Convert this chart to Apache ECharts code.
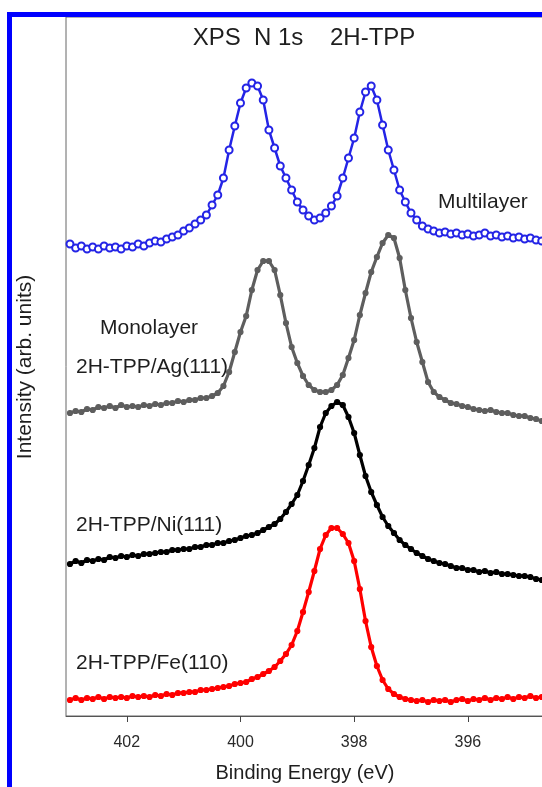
<!DOCTYPE html>
<html>
<head>
<meta charset="utf-8">
<script src="https://cdn.jsdelivr.net/npm/echarts@6/dist/echarts.min.js"></script>
<style>
  html, body { margin: 0; padding: 0; background: #fff; }
  #main { width: 542px; height: 787px; }
</style>
</head>
<body>
<div id="main"></div>
<script>
// binding energy (eV), shared by all spectra
var energy = [
    403.0, 402.9, 402.8, 402.7, 402.6, 402.5, 402.4, 402.3, 402.2, 402.1,
    402.0, 401.9, 401.8, 401.7, 401.6, 401.5, 401.4, 401.3, 401.2, 401.1,
    401.0, 400.9, 400.8, 400.7, 400.6, 400.5, 400.4, 400.3, 400.2, 400.1,
    400.0, 399.9, 399.8, 399.7, 399.6, 399.5, 399.4, 399.3, 399.2, 399.1,
    399.0, 398.9, 398.8, 398.7, 398.6, 398.5, 398.4, 398.3, 398.2, 398.1,
    398.0, 397.9, 397.8, 397.7, 397.6, 397.5, 397.4, 397.3, 397.2, 397.1,
    397.0, 396.9, 396.8, 396.7, 396.6, 396.5, 396.4, 396.3, 396.2, 396.1,
    396.0, 395.9, 395.8, 395.7, 395.6, 395.5, 395.4, 395.3, 395.2, 395.1,
    395.0, 394.9, 394.8, 394.7
];
// intensities (arb. units, already stacked with offsets)
var multilayer = [
    472, 468, 470, 467, 469, 467, 470, 468, 469, 467,
    470, 469, 472, 470, 473, 475, 474, 477, 479, 481,
    485, 488, 492, 496, 501, 511, 521, 538, 566, 590,
    613, 628, 633, 630, 616, 586, 568, 550, 538, 526,
    514, 506, 500, 496, 498, 503, 510, 520, 538, 558,
    578, 604, 624, 630, 616, 591, 566, 546, 526, 514,
    503, 496, 490, 487, 485, 483, 484, 482, 483, 481,
    482, 480, 481, 483, 480, 481, 479, 480, 478, 479,
    477, 478, 476, 475
];
var agMono = [
    303, 305, 304, 307, 306, 309, 308, 310, 308, 311,
    309, 310, 309, 311, 310, 312, 311, 313, 313, 315,
    314, 316, 316, 318, 318, 320, 323, 330, 344, 364,
    384, 400, 426, 446, 455, 455, 446, 421, 393, 369,
    353, 340, 331, 326, 324, 324, 326, 331, 341, 358,
    376, 401, 423, 444, 459, 473, 481, 478, 458, 426,
    398, 374, 354, 334, 324, 319, 316, 313, 312, 310,
    309, 307, 306, 305, 306, 304, 303, 303, 301, 300,
    300, 298, 297, 295
];
var niMono = [
    152, 155, 153, 156, 155, 157, 156, 159, 158, 160,
    159, 161, 160, 162, 162, 163, 164, 164, 166, 166,
    167, 167, 169, 169, 171, 171, 173, 173, 175, 176,
    178, 180, 181, 183, 186, 189, 192, 197, 204, 212,
    221, 235, 251, 268, 289, 303, 310, 314, 311, 299,
    283, 261, 240, 224, 211, 199, 190, 183, 176, 171,
    167, 163, 160, 157, 155, 153, 152, 150, 148, 148,
    146, 146, 144, 145, 143, 144, 142, 142, 141, 140,
    140, 139, 137, 136
];
var feMono = [
    16, 18, 16, 18, 17, 19, 17, 19, 18, 19,
    18, 20, 19, 20, 19, 21, 20, 22, 21, 23,
    23, 24, 24, 26, 26, 27, 28, 29, 30, 32,
    33, 34, 37, 39, 42, 45, 49, 55, 62, 71,
    85, 104, 124, 145, 167, 181, 188, 188, 182, 173,
    155, 127, 95, 69, 50, 36, 27, 22, 19, 17,
    16, 15, 16, 14, 16, 15, 16, 14, 16, 17,
    15, 17, 16, 18, 16, 18, 17, 19, 17, 19,
    18, 20, 18, 19
];
var tickValues = [396, 398, 400, 402];

function pairs(ys) {
    var out = [];
    for (var i = 0; i < ys.length; i++) {
        out.push([energy[i], ys[i]]);
    }
    return out;
}

function dotSeries(name, ys, color, symbol, size, width) {
    return {
        name: name,
        type: 'line',
        data: pairs(ys),
        symbol: symbol,
        symbolSize: size,
        showAllSymbol: true,
        itemStyle: { color: color, borderColor: color, borderWidth: 1.2 },
        lineStyle: { color: color, width: width },
        silent: true
    };
}

var font = '"Liberation Sans", Arial, sans-serif';
var txt = '#1e1e1e';

function label(text, x, y, size) {
    return {
        type: 'text',
        x: x,
        y: y,
        style: {
            text: text,
            fill: txt,
            font: size + 'px ' + font,
            textAlign: 'left',
            textVerticalAlign: 'middle'
        }
    };
}

var option = {
    animation: false,
    backgroundColor: '#fff',
    textStyle: { fontFamily: font },
    grid: {
        left: 66,
        top: 17,
        right: -2,
        bottom: 71,
        show: true,
        borderColor: '#666',
        borderWidth: 1,
        outerBoundsMode: 'none'
    },
    xAxis: {
        type: 'value',
        inverse: true,
        min: 394.66,
        max: 403.07,
        axisLine: { show: true, lineStyle: { color: '#555', width: 1 } },
        axisTick: { show: true, customValues: tickValues, length: 6, lineStyle: { color: '#444' } },
        axisLabel: { customValues: tickValues, fontSize: 16, color: '#2a2a2a', margin: 19 },
        splitLine: { show: false },
        name: 'Binding Energy (eV)',
        nameLocation: 'middle',
        nameGap: 47,
        nameTextStyle: { fontSize: 20, color: txt }
    },
    yAxis: {
        type: 'value',
        min: 0,
        max: 699,
        axisLine: { show: false },
        axisTick: { show: false },
        axisLabel: { show: false },
        splitLine: { show: false }
    },
    series: [
        dotSeries('Multilayer', multilayer, '#2424e6', 'emptyCircle', 7, 2.5),
        dotSeries('2H-TPP/Ag(111)', agMono, '#5e5e5e', 'circle', 5, 3.2),
        dotSeries('2H-TPP/Ni(111)', niMono, '#000000', 'circle', 5, 3.2),
        dotSeries('2H-TPP/Fe(110)', feMono, '#ff0000', 'circle', 5, 3.2)
    ],
    graphic: [
        // blue frame
        { type: 'rect', shape: { x: 7, y: 12, width: 5, height: 775 }, style: { fill: '#0000ff' } },
        { type: 'rect', shape: { x: 7, y: 12, width: 535, height: 5 }, style: { fill: '#0000ff' } },
        {
            type: 'text',
            x: 304,
            y: 38,
            style: {
                text: 'XPS  N 1s    2H-TPP',
                fill: txt,
                font: '24px ' + font,
                textAlign: 'center',
                textVerticalAlign: 'middle'
            }
        },
        {
            type: 'text',
            x: 25,
            y: 367,
            rotation: Math.PI / 2,
            style: {
                text: 'Intensity (arb. units)',
                fill: txt,
                font: '21px ' + font,
                textAlign: 'center',
                textVerticalAlign: 'middle'
            }
        },
        label('Multilayer', 438, 202, 21),
        label('Monolayer', 100, 328, 21),
        label('2H-TPP/Ag(111)', 76, 367, 21),
        label('2H-TPP/Ni(111)', 76, 525, 21),
        label('2H-TPP/Fe(110)', 76, 663, 21)
    ]
};

var myChart = echarts.init(document.getElementById('main'));
myChart.setOption(option);
</script>
</body>
</html>
